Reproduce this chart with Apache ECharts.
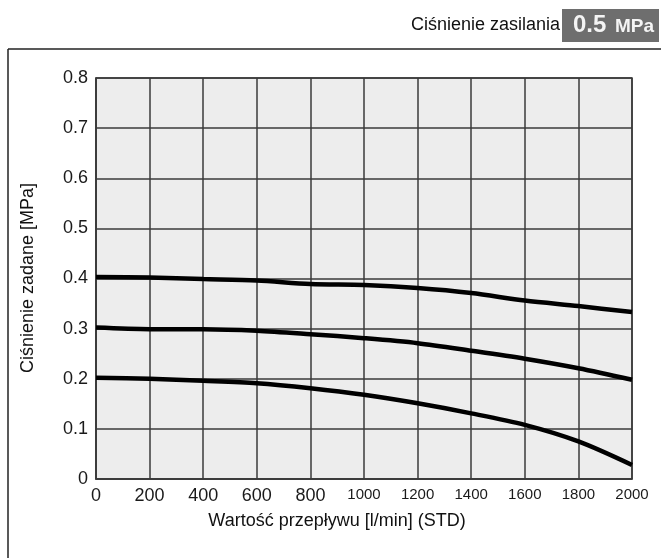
<!DOCTYPE html>
<html>
<head>
<meta charset="utf-8">
<script src="https://cdn.jsdelivr.net/npm/echarts@6/dist/echarts.min.js"></script>
<style>
  html, body { margin: 0; padding: 0; background: #fff; }
  #chart { width: 661px; height: 558px; }
</style>
</head>
<body>
<div id="chart"></div>
<script>
// Flow rate [l/min] (STD) and set pressure [MPa] at 0.5 MPa supply pressure
const flow = [0, 200, 400, 600, 800, 1000, 1200, 1400, 1600, 1800, 2000];
const setP04 = [0.403, 0.402, 0.399, 0.396, 0.389, 0.387, 0.381, 0.371, 0.356, 0.345, 0.333];
const setP03 = [0.302, 0.299, 0.299, 0.296, 0.289, 0.281, 0.271, 0.256, 0.240, 0.221, 0.198];
const setP02 = [0.202, 0.200, 0.196, 0.191, 0.181, 0.168, 0.151, 0.131, 0.108, 0.075, 0.028];
const yTicks = [0, 0.1, 0.2, 0.3, 0.4, 0.5, 0.6, 0.7, 0.8];

const titleText = 'Ciśnienie zasilania';
const supplyValue = '0.5';
const supplyUnit = 'MPa';
const yName = 'Ciśnienie zadane [MPa]';
const xName = 'Wartość przepływu [l/min] (STD)';

const FONT = '"Liberation Sans", Arial, sans-serif';
const pair = (ys) => flow.map((x, i) => [x, ys[i]]);

const lineSeries = (ys) => ({
  type: 'line',
  data: pair(ys),
  showSymbol: false,
  smooth: 0.3,
  lineStyle: { color: '#000', width: 4.5 },
  silent: true
});

const chart = echarts.init(document.getElementById('chart'), null, { renderer: 'canvas' });
chart.setOption({
  animation: false,
  backgroundColor: '#fff',
  textStyle: { fontFamily: FONT },
  grid: {
    left: 96, right: 29, top: 78, bottom: 79,
    show: true, backgroundColor: '#ededed', borderColor: '#3a3a3a', borderWidth: 1.5
  },
  xAxis: {
    type: 'value', min: 0, max: 2000, interval: 200,
    axisLine: { show: true, lineStyle: { color: '#3a3a3a', width: 1.5 } },
    axisTick: { show: false },
    splitLine: { show: true, lineStyle: { color: '#3a3a3a', width: 1.5 } },
    axisLabel: {
      margin: 8, color: '#1a1a1a', fontFamily: FONT, fontSize: 18,
      formatter: (v) => v >= 1000 ? '{s|' + v + '}' : String(v),
      rich: { s: { fontSize: 15, fontFamily: FONT, color: '#1a1a1a' } }
    }
  },
  yAxis: {
    type: 'value', min: 0, max: 0.8, interval: 0.1,
    axisLine: { show: true, lineStyle: { color: '#3a3a3a', width: 1.5 } },
    axisTick: { show: false },
    splitLine: { show: true, lineStyle: { color: '#3a3a3a', width: 1.5 } },
    axisLabel: {
      margin: 8, color: '#1a1a1a', fontFamily: FONT, fontSize: 18,
      formatter: (v) => {
        const t = yTicks.find((k) => Math.abs(k - v) < 1e-6);
        return t === 0 ? '0' : t.toFixed(1);
      }
    }
  },
  series: [lineSeries(setP04), lineSeries(setP03), lineSeries(setP02)],
  graphic: [
    // frame lines along the top and left side
    { type: 'line', shape: { x1: 8, y1: 49, x2: 661, y2: 49 }, style: { stroke: '#222', lineWidth: 1.5 } },
    { type: 'line', shape: { x1: 8, y1: 49, x2: 8, y2: 558 }, style: { stroke: '#222', lineWidth: 1.5 } },
    // supply pressure header
    { type: 'text', x: 560, y: 25, style: { text: titleText, font: '18px ' + FONT, fill: '#111', align: 'right', verticalAlign: 'middle' } },
    { type: 'rect', shape: { x: 562, y: 9, width: 97, height: 33 }, style: { fill: '#6e6e6e' } },
    { type: 'text', x: 573, y: 25, style: { text: supplyValue, font: 'bold 24px ' + FONT, fill: '#f4f4f4', align: 'left', verticalAlign: 'middle' } },
    { type: 'text', x: 615, y: 27, style: { text: supplyUnit, font: 'bold 19px ' + FONT, fill: '#f4f4f4', align: 'left', verticalAlign: 'middle' } },
    // axis names
    { type: 'text', x: 337, y: 521, style: { text: xName, font: '18px ' + FONT, fill: '#111', align: 'center', verticalAlign: 'middle' } },
    { type: 'text', x: 28, y: 278, rotation: Math.PI / 2, style: { text: yName, font: '18px ' + FONT, fill: '#111', align: 'center', verticalAlign: 'middle' } }
  ]
});
</script>
</body>
</html>
